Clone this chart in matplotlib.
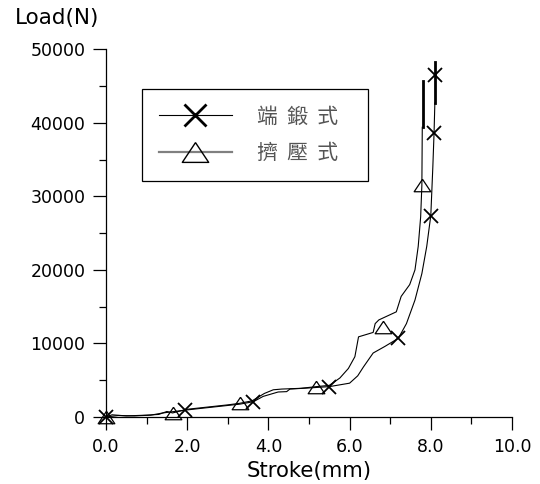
import matplotlib
matplotlib.use('Agg')
import matplotlib.pyplot as plt
from matplotlib.lines import Line2D
from matplotlib.ticker import MultipleLocator, FormatStrFormatter

plt.rcParams['font.family'] = ['DejaVu Sans']

# 端鍛式 (X markers)
forge_stroke = [0, 0.3, 0.7, 1.1, 1.4, 1.9, 2.3, 2.8, 3.3, 3.63, 3.87, 4.24, 4.45, 4.53,
                5.0, 5.5, 6.0, 6.2, 6.34, 6.58, 6.87, 7.2, 7.4, 7.61, 7.78, 7.9, 8.0,
                8.05, 8.08, 8.10]
forge_load = [0, 200, 150, 250, 550, 900, 1150, 1450, 1750, 2080, 2800, 3400, 3450, 3800,
              3950, 4130, 4600, 5600, 6800, 8700, 9600, 10700, 12700, 15900, 19500, 23200, 27400,
              34000, 38600, 42700]
forge_mark_stroke = [0, 1.94, 3.63, 5.5, 7.2, 8.0, 8.08, 8.10]
forge_mark_load = [0, 900, 2080, 4130, 10700, 27400, 38600, 46500]
forge_top_stroke = [8.10, 8.10]
forge_top_load = [42700, 48300]

# 擠壓式 (triangle markers)
extr_stroke = [0, 0.15, 0.5, 1.0, 1.3, 1.5, 1.64, 2.0, 2.5, 3.0, 3.29, 3.6, 3.9, 4.12, 4.33,
               4.8, 5.18, 5.5, 5.76, 5.97, 6.13, 6.22, 6.58, 6.63, 6.72, 7.15, 7.27, 7.48,
               7.61, 7.69, 7.75, 7.78, 7.79]
extr_load = [0, 300, 150, 250, 350, 750, 550, 1050, 1350, 1650, 1860, 2200, 3200, 3700, 3800,
             3900, 4130, 4300, 5300, 6600, 8200, 10900, 11500, 12700, 13200, 14300, 16400, 18000,
             20000, 23200, 27200, 31500, 39400]
extr_mark_stroke = [0, 1.64, 3.29, 5.18, 6.82, 7.78]
extr_mark_load = [0, 500, 1860, 4130, 12300, 31500]
extr_top_stroke = [7.80, 7.80]
extr_top_load = [39400, 45700]

labels = ['端  鍛  式   ', '擠  壓  式   ']
x_ticks = [0, 2, 4, 6, 8, 10]
y_ticks = [0, 10000, 20000, 30000, 40000, 50000]

tri = [(0, 0.75), (-1.0, -0.75), (1.0, -0.75), (0, 0.75)]

fig = plt.figure(figsize=(5.4, 4.84), dpi=100)
ax = fig.add_axes([106/540, 1-417/484, 406/540, 367.7/484])

ax.plot(forge_stroke, forge_load, color='black', lw=0.8)
ax.plot(forge_top_stroke, forge_top_load, color='black', lw=2.0)
ax.plot(forge_mark_stroke, forge_mark_load, ls='none', marker='x', ms=10.5, mew=1.3,
        color='black', clip_on=False, zorder=4)

ax.plot(extr_stroke, extr_load, color='black', lw=0.8)
ax.plot(extr_top_stroke, extr_top_load, color='black', lw=2.0)
ax.plot(extr_mark_stroke, extr_mark_load, ls='none', marker=tri, ms=12, mew=0.9,
        mfc='none', mec='black', clip_on=False, zorder=4)

ax.set_xlim(0, 10)
ax.set_ylim(0, 50000)
ax.set_xticks(x_ticks)
ax.set_yticks(y_ticks)
ax.xaxis.set_minor_locator(MultipleLocator(1))
ax.yaxis.set_minor_locator(MultipleLocator(5000))
ax.xaxis.set_major_formatter(FormatStrFormatter('%.1f'))
for s in ['top', 'right']:
    ax.spines[s].set_visible(False)
for s in ['left', 'bottom']:
    ax.spines[s].set_linewidth(0.9)
ax.tick_params(which='major', direction='out', length=9.4, width=0.9, labelsize=12.5)
ax.tick_params(which='minor', direction='out', length=4.8, width=0.9)
ax.tick_params(axis='y', which='major', pad=5.5)
ax.tick_params(axis='x', which='major', pad=6)

fig.text(309/540, 1-476.5/484, 'Stroke(mm)', ha='center', va='baseline', fontsize=15.3)
fig.text(15/540, 1-24/484, 'Load(N)', ha='left', va='baseline', fontsize=15.5)

handles = [
    Line2D([], [], color='black', lw=0.8, marker='x', ms=16, mew=2.0),
    Line2D([], [], color='#808080', lw=1.6, marker=tri, ms=19, mew=1.0, mfc='none', mec='black'),
]
leg = ax.legend(handles, labels, loc='upper left',
                bbox_to_anchor=((142-106)/406, (417-89)/367.7),
                borderaxespad=0, fancybox=False, framealpha=1, edgecolor='black',
                prop={'family': ['Noto Sans CJK TC'], 'size': 15},
                labelcolor='#555555', handlelength=3.5, handletextpad=1.2,
                borderpad=0.8, labelspacing=0.7)
leg.get_frame().set_linewidth(0.9)

fig.savefig('out.png', dpi=100)
